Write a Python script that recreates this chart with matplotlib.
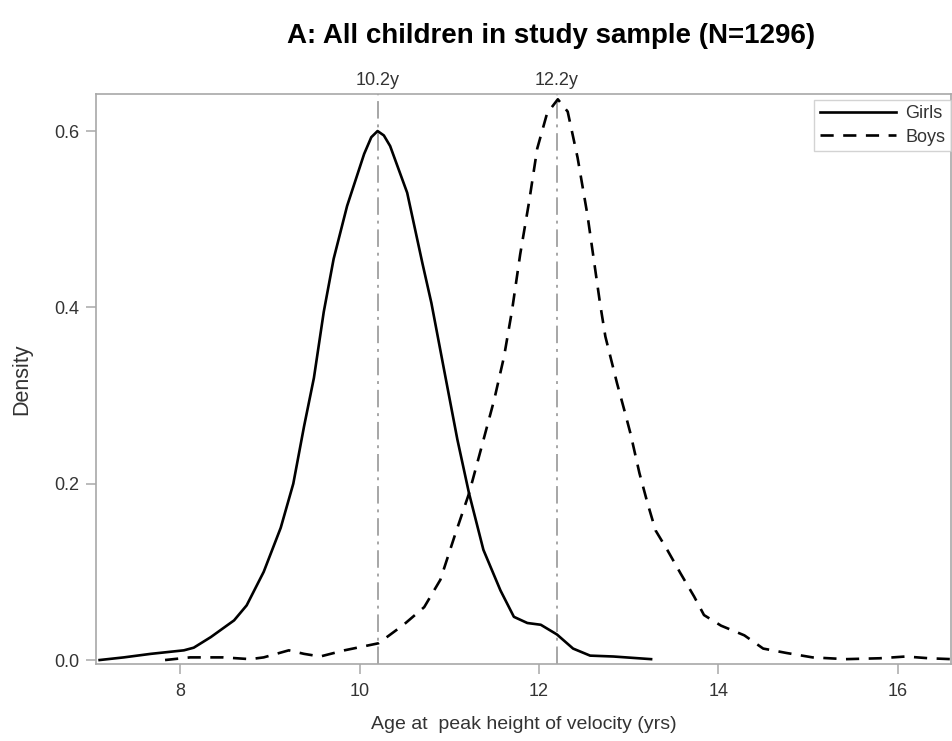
import matplotlib
matplotlib.use("Agg")
import matplotlib.pyplot as plt
from matplotlib.ticker import FormatStrFormatter

plt.rcParams['font.family'] = ['Liberation Sans', 'DejaVu Sans']

# ---- data ----
girls_age = [7.10, 7.37, 7.67, 8.04, 8.15, 8.34, 8.60, 8.74, 8.93, 9.12, 9.26, 9.38,
             9.49, 9.60, 9.71, 9.86, 10.05, 10.13, 10.20, 10.27, 10.34, 10.53, 10.70,
             10.80, 10.94, 11.09, 11.22, 11.38, 11.57, 11.72, 11.87, 12.02, 12.20,
             12.38, 12.57, 12.83, 13.25]
girls_density = [0.000, 0.003, 0.007, 0.011, 0.014, 0.026, 0.045, 0.062, 0.100, 0.150,
                 0.200, 0.265, 0.320, 0.395, 0.455, 0.515, 0.574, 0.593, 0.600, 0.595,
                 0.583, 0.530, 0.450, 0.405, 0.330, 0.250, 0.189, 0.125, 0.079, 0.049,
                 0.042, 0.040, 0.029, 0.013, 0.005, 0.004, 0.001]

boys_age = [7.83, 8.11, 8.48, 8.78, 8.93, 9.21, 9.38, 9.56, 9.83, 10.21, 10.49, 10.72,
            10.90, 11.07, 11.22, 11.35, 11.50, 11.61, 11.70, 11.79, 11.89, 11.98, 12.09,
            12.21, 12.32, 12.43, 12.54, 12.68, 12.74, 12.87, 12.95, 13.02, 13.12, 13.21,
            13.30, 13.43, 13.58, 13.73, 13.84, 14.03, 14.29, 14.50, 14.76, 15.05, 15.42,
            15.80, 16.09, 16.35, 16.60]
boys_density = [0.000, 0.003, 0.003, 0.001, 0.003, 0.011, 0.007, 0.004, 0.011, 0.019,
                0.040, 0.060, 0.091, 0.144, 0.189, 0.238, 0.295, 0.344, 0.397, 0.460,
                0.520, 0.580, 0.620, 0.636, 0.622, 0.570, 0.505, 0.405, 0.367, 0.314,
                0.284, 0.257, 0.212, 0.178, 0.147, 0.125, 0.098, 0.072, 0.051, 0.039,
                0.028, 0.013, 0.008, 0.003, 0.001, 0.002, 0.004, 0.002, 0.001]

peak_ages = [10.2, 12.2]
peak_labels = ["10.2y", "12.2y"]
series_labels = ["Girls", "Boys"]
x_ticks = [8, 10, 12, 14, 16]
y_ticks = [0.0, 0.2, 0.4, 0.6]
title = "A: All children in study sample (N=1296)"
x_label = "Age at  peak height of velocity (yrs)"
y_label = "Density"

# ---- figure ----
W, H = 953, 741
fig = plt.figure(figsize=(W / 100, H / 100), dpi=100)
ax = fig.add_axes([96 / W, 1 - 664 / H, (951.5 - 96) / W, (664 - 94) / H])

frame_col = "#a8a8a8"
text_col = "#333333"

for xv in peak_ages:
    ax.axvline(xv, color="#a6a6a6", lw=1.4, linestyle=(0, (9, 3, 1.5, 3)), zorder=1)

ax.plot(girls_age, girls_density, color="black", lw=1.9, label=series_labels[0],
        solid_joinstyle="round", zorder=3)
ax.plot(boys_age, boys_density, color="black", lw=1.9, linestyle=(0, (5, 3.6)),
        label=series_labels[1], zorder=3)

ax.set_xlim(7.06, 16.60)
ax.set_ylim(-0.0045, 0.642)
ax.set_xticks(x_ticks)
ax.set_yticks(y_ticks)
ax.yaxis.set_major_formatter(FormatStrFormatter("%.1f"))

for s in ax.spines.values():
    s.set_color(frame_col)
    s.set_linewidth(1.2)
ax.tick_params(direction="out", length=7, width=1.1, color=frame_col,
               labelcolor=text_col, labelsize=13)
ax.tick_params(axis="x", pad=7)
ax.tick_params(axis="y", pad=5)

ax.set_xlabel(x_label, fontsize=14, color=text_col, labelpad=11)
ax.set_ylabel(y_label, fontsize=15.5, color=text_col, labelpad=16)

for xv, lab in zip(peak_ages, peak_labels):
    ax.text(xv, 1.008, lab, transform=ax.get_xaxis_transform(), ha="center",
            va="bottom", fontsize=13, color=text_col)

leg = ax.legend(loc="upper right", bbox_to_anchor=(951 / W, 1 - 100 / H),
                bbox_transform=fig.transFigure, fontsize=13, handlelength=4.2,
                frameon=True, fancybox=False, borderaxespad=0.0,
                borderpad=0.3, labelspacing=0.35, handletextpad=0.55)
leg.get_frame().set_edgecolor("#c8c8c8")
leg.get_frame().set_linewidth(1.0)
for t in leg.get_texts():
    t.set_color(text_col)

fig.text(551 / W, 1 - 36 / H, title, ha="center", va="center", fontsize=20,
         fontweight="bold", color="black")

fig.savefig("out.png", dpi=100)
